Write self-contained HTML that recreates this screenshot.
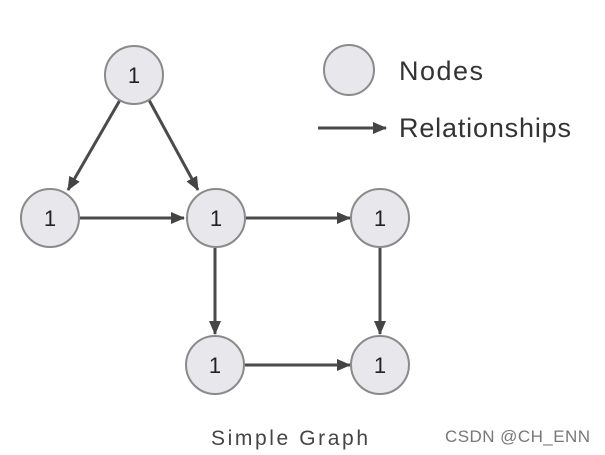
<!DOCTYPE html>
<html><head><style>body{margin:0;background:#fff}svg{display:block}</style></head><body>
<svg width="605" height="455" xmlns="http://www.w3.org/2000/svg" font-family="Liberation Sans, sans-serif">
<defs><marker id="a" markerWidth="14" markerHeight="12" refX="13" refY="6" orient="auto" markerUnits="userSpaceOnUse"><path d="M0,0 L14,6 L0,12 z" fill="#444"/></marker></defs>
<g stroke="#4a4a4a" stroke-width="3" marker-end="url(#a)">
<line x1="120" y1="100" x2="68" y2="190"/>
<line x1="149" y1="100" x2="198" y2="190"/>
<line x1="80" y1="218" x2="184" y2="218"/>
<line x1="246" y1="218" x2="350" y2="218"/>
<line x1="215" y1="248" x2="215" y2="334"/>
<line x1="380" y1="248" x2="380" y2="334"/>
<line x1="245" y1="365" x2="350" y2="365"/>
<line x1="318" y1="128" x2="386" y2="128"/>
</g>
<g fill="#e8e8ec" stroke="#8a8a8a" stroke-width="2">
<circle cx="134" cy="75" r="29"/><circle cx="50" cy="218" r="29"/><circle cx="216" cy="218" r="29"/><circle cx="380" cy="218" r="29"/><circle cx="215" cy="365" r="29"/><circle cx="380" cy="365" r="29"/><circle cx="349" cy="70" r="25"/>
</g>
<g font-size="22" fill="#222" text-anchor="middle">
<text x="134" y="83">1</text><text x="50" y="226">1</text><text x="216" y="226">1</text><text x="380" y="226">1</text><text x="215" y="373">1</text><text x="380" y="373">1</text>
</g>
<text x="399" y="80" font-size="27" fill="#333" textLength="84">Nodes</text>
<text x="399" y="137" font-size="27" fill="#333" textLength="172">Relationships</text>
<text x="211" y="445" font-size="21" fill="#444" textLength="157">Simple Graph</text>
<text x="445" y="442" font-size="17" fill="#777" textLength="145">CSDN @CH_ENN</text>
</svg>
</body></html>
